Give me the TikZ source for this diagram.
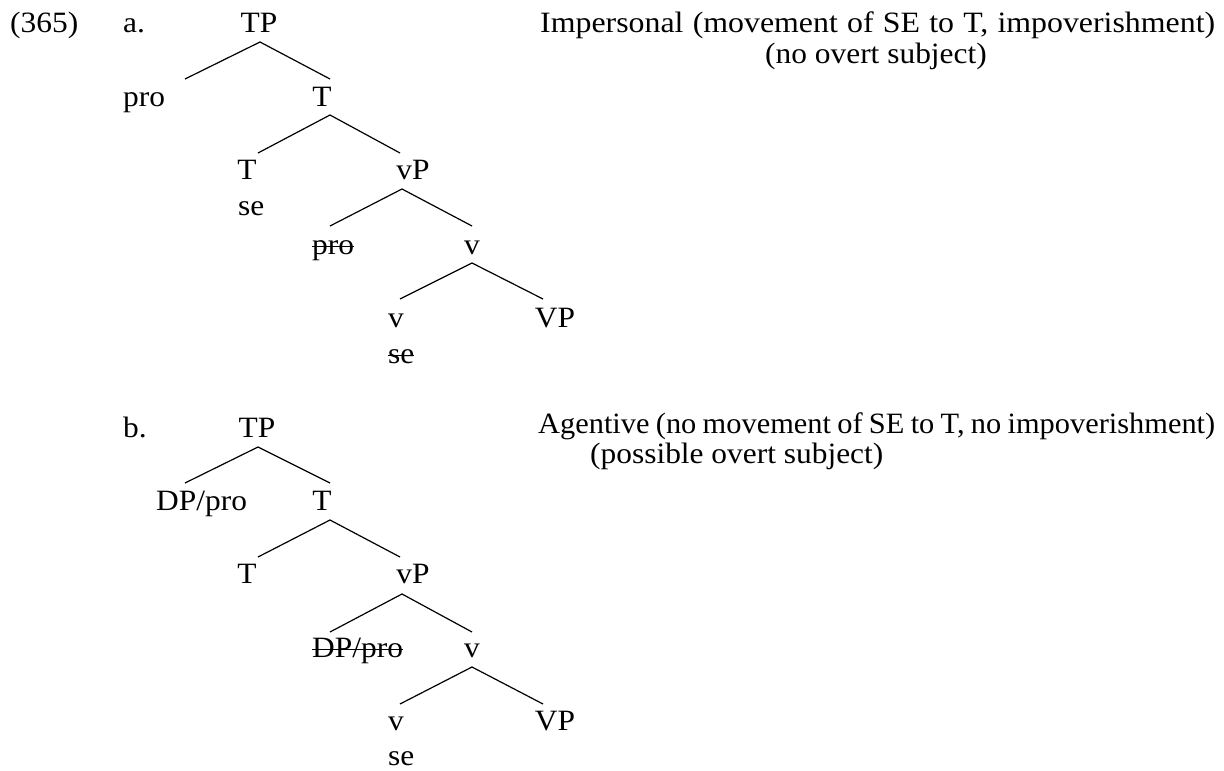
\documentclass[tikz,border=0pt]{standalone}
\usepackage{fontspec}
\setmainfont{Liberation Serif}[FakeStretch=1.065]
\newfontfamily\widerfont{Liberation Serif}[FakeStretch=1.08]
\newfontfamily\narrowfont{Liberation Serif}[FakeStretch=1.03]
\newcommand{\strk}[1]{\setbox0\hbox{#1}\rlap{\rule[0.5ex]{\wd0}{1.3pt}}\box0}
\newcommand{\fitline}[2]{\hbox to #1{\spaceskip=0pt plus 1fil\relax #2}}
\tikzset{
  lbl/.style={inner sep=0pt, anchor=base, font=\fontsize{29.5}{35}\selectfont},
  lblw/.style={lbl, anchor=base west},
  branch/.style={line width=1.2pt}
}
\begin{document}
\begin{tikzpicture}[x=1pt,y=-1pt]
\useasboundingbox (0,0) rectangle (1224,771);
\fill[white] (0,0) rectangle (1224,771);
% ---------- (a) ----------
\node[lblw] (num) at (10,32) {(365)};
\node[lblw] (la) at (123,32) {a.};
\node[lbl] (aTP) at (259,32) {TP};
\node[lblw] (apro) at (123,106) {pro};
\node[lbl] (aT1) at (322,106) {T};
\node[lbl] (aT2) at (247,179) {T};
\node[lblw] (ase1) at (238,215) {se};
\node[lbl] (avP) at (413,179) {vP};
\node[lblw] (aproS) at (312,254) {\strk{pro}};
\node[lbl] (av3) at (472,254) {v};
\node[lbl] (av4) at (396,327) {v};
\node[lbl] (aVP) at (555,327) {VP};
\node[lblw] (ase2) at (388,363) {\strk{se}};
\node[lblw] (adesc1) at (540,32) {\widerfont\fitline{675pt}{Impersonal (movement of SE to T, impoverishment)}};
\node[lblw] (adesc2) at (765,63) {(no overt subject)};
% branch points (a)
\coordinate (aTP-f) at (260,42);  \coordinate (apro-t) at (185,79);  \coordinate (aT1-t) at (330,79);
\coordinate (aT1-f) at (330,115); \coordinate (aT2-t) at (258,153);  \coordinate (avP-t) at (400,153);
\coordinate (avP-f) at (402,189); \coordinate (aproS-t) at (330,226); \coordinate (av3-t) at (472,226);
\coordinate (av3-f) at (472,263); \coordinate (av4-t) at (400,299);  \coordinate (aVP-t) at (543,299);
\draw[branch] (apro-t) -- (aTP-f) -- (aT1-t);
\draw[branch] (aT2-t) -- (aT1-f) -- (avP-t);
\draw[branch] (aproS-t) -- (avP-f) -- (av3-t);
\draw[branch] (av4-t) -- (av3-f) -- (aVP-t);
% ---------- (b) ----------
\node[lblw] (lb) at (123,437) {b.};
\node[lbl] (bTP) at (257,437) {TP};
\node[lblw] (bDP) at (156,510) {DP/pro};
\node[lbl] (bT1) at (322,510) {T};
\node[lbl] (bT2) at (247,583) {T};
\node[lbl] (bvP) at (413,583) {vP};
\node[lblw] (bDPS) at (312,657) {\strk{DP/pro}};
\node[lbl] (bv3) at (472,657) {v};
\node[lbl] (bv4) at (396,730) {v};
\node[lbl] (bVP) at (555,730) {VP};
\node[lblw] (bse) at (388,765) {se};
\node[lblw] (bdesc1) at (538,433) {\narrowfont\fitline{677pt}{Agentive (no movement of SE to T, no impoverishment)}};
\node[lblw] (bdesc2) at (590,463) {(possible overt subject)};
% branch points (b)
\coordinate (bTP-f) at (258,447); \coordinate (bDP-t) at (185,483);  \coordinate (bT1-t) at (330,483);
\coordinate (bT1-f) at (330,520); \coordinate (bT2-t) at (258,557);  \coordinate (bvP-t) at (400,557);
\coordinate (bvP-f) at (402,594); \coordinate (bDPS-t) at (330,632); \coordinate (bv3-t) at (472,632);
\coordinate (bv3-f) at (472,667); \coordinate (bv4-t) at (400,704);  \coordinate (bVP-t) at (543,704);
\draw[branch] (bDP-t) -- (bTP-f) -- (bT1-t);
\draw[branch] (bT2-t) -- (bT1-f) -- (bvP-t);
\draw[branch] (bDPS-t) -- (bvP-f) -- (bv3-t);
\draw[branch] (bv4-t) -- (bv3-f) -- (bVP-t);
\end{tikzpicture}
\end{document}
